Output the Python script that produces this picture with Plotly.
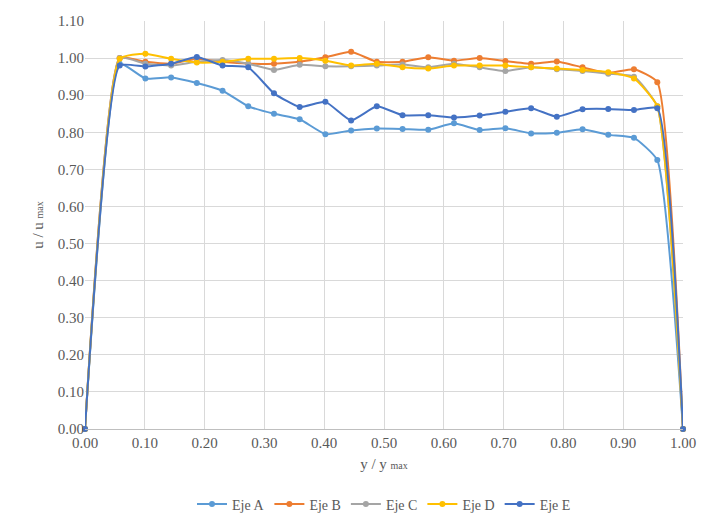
import plotly.graph_objects as go

x_vals = [0.0, 0.058, 0.101, 0.144, 0.187, 0.230, 0.273, 0.316, 0.359, 0.402, 0.445, 0.488,
          0.531, 0.574, 0.617, 0.660, 0.703, 0.746, 0.789, 0.832, 0.875, 0.918, 0.957, 1.0]

eje_a = [0.0, 0.985, 0.945, 0.948, 0.933, 0.912, 0.870, 0.850, 0.835, 0.795, 0.805, 0.810,
         0.809, 0.807, 0.824, 0.806, 0.811, 0.797, 0.799, 0.808, 0.793, 0.785, 0.725, 0.0]
eje_b = [0.0, 1.000, 0.990, 0.985, 0.998, 0.990, 0.985, 0.985, 0.990, 1.002, 1.017, 0.990,
         0.990, 1.002, 0.993, 1.000, 0.992, 0.985, 0.991, 0.975, 0.960, 0.970, 0.935, 0.0]
eje_c = [0.0, 1.000, 0.985, 0.980, 0.990, 0.995, 0.985, 0.968, 0.982, 0.978, 0.978, 0.980,
         0.983, 0.975, 0.985, 0.975, 0.965, 0.975, 0.970, 0.965, 0.958, 0.950, 0.870, 0.0]
eje_d = [0.0, 0.998, 1.012, 0.998, 0.988, 0.990, 0.998, 0.998, 1.000, 0.993, 0.980, 0.985,
         0.975, 0.972, 0.980, 0.980, 0.980, 0.975, 0.972, 0.968, 0.962, 0.945, 0.870, 0.0]
eje_e = [0.0, 0.980, 0.977, 0.985, 1.003, 0.980, 0.975, 0.905, 0.868, 0.882, 0.832, 0.870,
         0.846, 0.846, 0.840, 0.845, 0.855, 0.865, 0.842, 0.862, 0.863, 0.860, 0.865, 0.0]

names = ["Eje A", "Eje B", "Eje C", "Eje D", "Eje E"]
series = [eje_a, eje_b, eje_c, eje_d, eje_e]
colors = ["#5B9BD5", "#ED7D31", "#A5A5A5", "#FFC000", "#4472C4"]

y_ticks = [round(0.1 * i, 2) for i in range(12)]
x_ticks = [round(0.1 * i, 2) for i in range(11)]

font_family = "Times New Roman, Liberation Serif, DejaVu Serif, serif"
gray = "#595959"

fig = go.Figure()
for name, ys, c in zip(names, series, colors):
    fig.add_trace(go.Scatter(
        x=x_vals, y=ys, name=name, mode="lines+markers",
        line=dict(color=c, width=2, shape="spline", smoothing=0.45),
        marker=dict(color=c, size=6),
        cliponaxis=False,
    ))

fig.update_layout(
    width=702, height=520,
    margin=dict(l=85, r=19, t=21, b=91, autoexpand=False),
    paper_bgcolor="white", plot_bgcolor="white",
    font=dict(family=font_family, color=gray, size=15),
    showlegend=True,
    legend=dict(orientation="h", x=0.5, xanchor="center", y=-0.185, yanchor="middle",
                font=dict(family=font_family, size=14, color=gray),
                itemwidth=30, tracegroupgap=0),
    xaxis=dict(
        range=[0, 1.0], tickvals=x_ticks, tickformat=".2f",
        showgrid=True, gridcolor="#D9D9D9", gridwidth=1,
        showline=True, linecolor="#BFBFBF", zeroline=False,
        ticks="", tickfont=dict(family=font_family, size=15, color=gray),
        title=dict(text="y / y <span style='font-size:10px'>max</span>",
                   font=dict(family=font_family, size=15, color=gray), standoff=8),
    ),
    yaxis=dict(
        range=[0, 1.10], tickvals=y_ticks, tickformat=".2f",
        showgrid=True, gridcolor="#D9D9D9", gridwidth=1,
        showline=False, zeroline=False, ticks="",
        tickfont=dict(family=font_family, size=15, color=gray),
        title=dict(text="u / u <span style='font-size:10px'>max</span>",
                   font=dict(family=font_family, size=15, color=gray), standoff=10),
    ),
)

fig.write_html("out.html")
